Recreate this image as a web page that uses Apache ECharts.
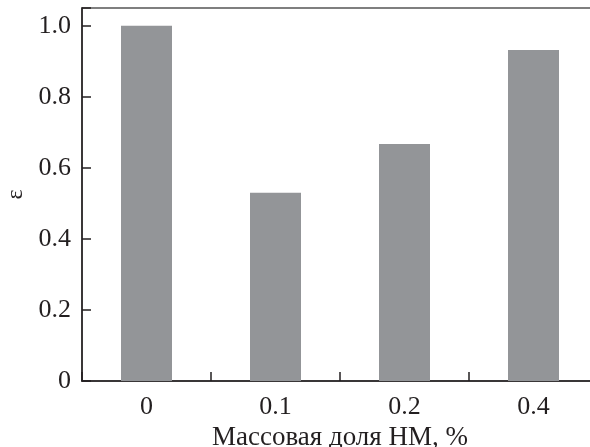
<!DOCTYPE html>
<html>
<head>
<meta charset="utf-8">
<script src="https://cdn.jsdelivr.net/npm/echarts@6/dist/echarts.min.js"></script>
<style>
  html, body { margin: 0; padding: 0; background: #fff; }
  #chart { width: 590px; height: 447px; }
</style>
</head>
<body>
<div id="chart"></div>
<script>
  // категории и значения
  var categories = ['0', '0.1', '0.2', '0.4'];
  var epsValues = [1.0, 0.53, 0.667, 0.932];

  var chart = echarts.init(document.getElementById('chart'));
  var font = '"Liberation Serif", "DejaVu Serif", serif';

  chart.setOption({
    animation: false,
    grid: {
      left: 82,
      top: 8,
      width: 516,
      height: 373,
      show: true,
      borderColor: '#555',
      borderWidth: 1.5,
      containLabel: false,
      outerBoundsMode: 'none'
    },
    xAxis: {
      type: 'category',
      data: categories,
      name: 'Массовая доля НМ, %',
      nameLocation: 'middle',
      nameGap: 51,
      nameTextStyle: { fontFamily: font, fontSize: 27, color: '#231f20', verticalAlign: 'middle' },
      axisLine: { lineStyle: { color: '#231f20', width: 1.5 } },
      axisTick: { show: true, interval: 0, inside: true, length: 9, lineStyle: { color: '#231f20', width: 1.5 } },
      axisLabel: { fontFamily: font, fontSize: 26, color: '#231f20', margin: 13 }
    },
    yAxis: {
      type: 'value',
      min: 0,
      max: 1.05,
      interval: 0.2,
      name: 'ε',
      nameLocation: 'middle',
      nameGap: 64,
      nameRotate: 90,
      nameTextStyle: { fontFamily: font, fontSize: 24, color: '#231f20', verticalAlign: 'middle' },
      axisLine: { show: true, lineStyle: { color: '#231f20', width: 1.5 } },
      axisTick: { show: true, inside: true, length: 9, lineStyle: { color: '#231f20', width: 1.5 } },
      splitLine: { show: false },
      axisLabel: {
        fontFamily: font, fontSize: 26, color: '#231f20', margin: 11,
        formatter: function (v) {
          if (v > 1.01) return '';
          return v === 0 ? '0' : v.toFixed(1);
        }
      }
    },
    series: [{
      type: 'bar',
      data: epsValues,
      barWidth: 51,
      itemStyle: { color: '#939598' }
    }]
  });
</script>
</body>
</html>
